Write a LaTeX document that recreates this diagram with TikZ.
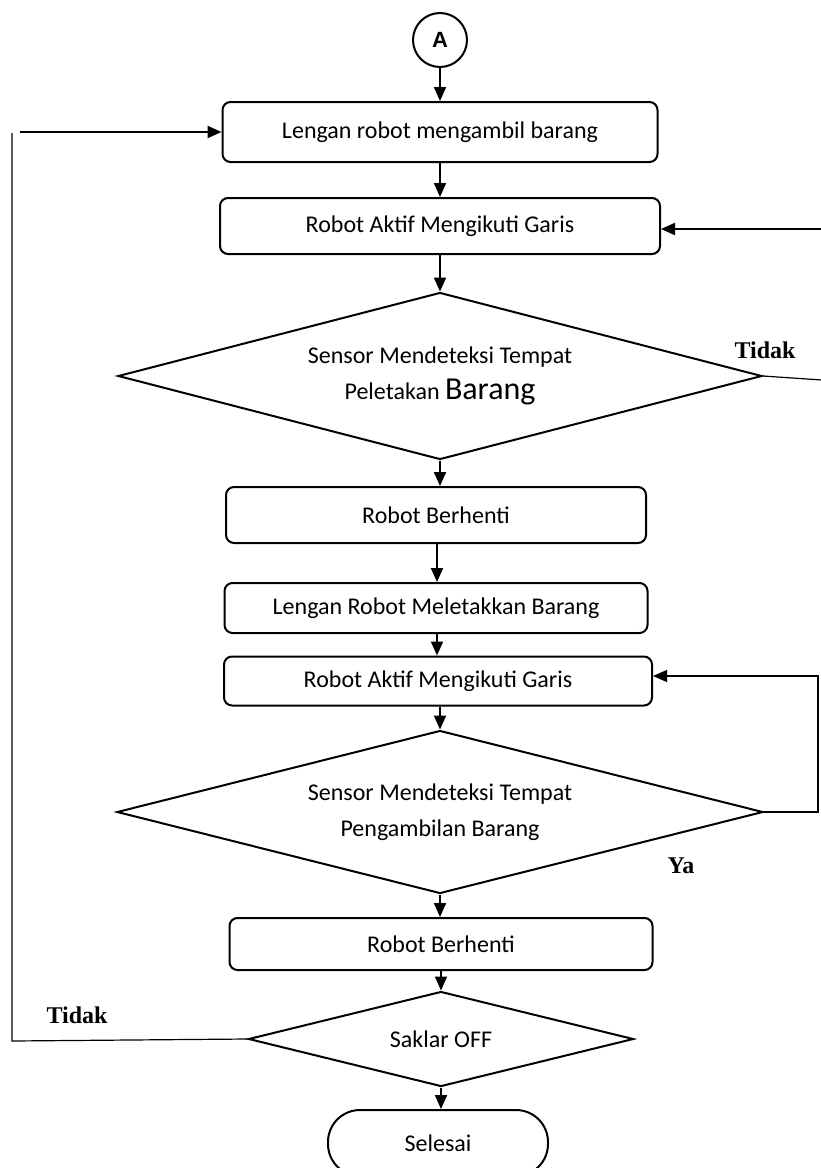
\documentclass[tikz,border=0pt]{standalone}
\usepackage{fontspec}
\setmainfont{Carlito}
\newfontfamily\serifket{Liberation Serif}
\newfontfamily\sanskon{Liberation Sans}
\usetikzlibrary{shapes.geometric,arrows.meta}

\tikzset{
    proses/.style={draw, line width=1pt, rounded corners=4pt, inner sep=0pt},
    keputusan/.style={draw, line width=1pt, diamond, inner sep=0pt, align=center},
    terminal/.style={draw, line width=1pt, rounded corners=16pt, inner sep=0pt},
    konektor/.style={draw, line width=1pt, circle, inner sep=0pt, minimum size=27pt,
        font=\sanskon\bfseries\fontsize{11}{12}\selectfont},
    panah/.style={-{Triangle[width=6pt,length=7pt]}, line width=1pt},
    balik/.style={-{Triangle[width=6pt,length=7pt]}, line width=0.6pt},
    keterangan/.style={font=\serifket\bfseries\fontsize{12}{14}\selectfont}
}

\begin{document}
\begin{tikzpicture}[x=0.5pt, y=-0.5pt, every node/.style={font=\fontsize{12}{18}\selectfont}]
    \useasboundingbox (0,0) rectangle (820,1168);

    % Konektor awal
    \node[konektor] (A) at (440,40) {A};

    % Proses atas
    \node[proses, minimum width=217.5pt, minimum height=30pt] (ambil) at (440,132) {Lengan robot mengambil barang};
    \node[proses, minimum width=220pt, minimum height=28pt] (garis1) at (440,226) {Robot Aktif Mengikuti Garis};

    % Keputusan tempat peletakan
    \node[keputusan, aspect=3.86, minimum width=322pt, minimum height=83.5pt] (cekletak) at (440,376)
        {Sensor Mendeteksi Tempat\\Peletakan {\fontsize{16}{18}\selectfont Barang}};

    % Proses tengah
    \node[proses, minimum width=210pt, minimum height=28pt] (stop1) at (436,515) {Robot Berhenti};
    \node[proses, minimum width=211.5pt, minimum height=25pt] (letak) at (436,608) {Lengan Robot Meletakkan Barang};
    \node[proses, minimum width=214pt, minimum height=24.5pt] (garis2) at (438,681) {Robot Aktif Mengikuti Garis};

    % Keputusan tempat pengambilan
    \node[keputusan, aspect=3.96, minimum width=323pt, minimum height=81.5pt] (cekambil) at (440,812)
        {Sensor Mendeteksi Tempat\\Pengambilan Barang};

    % Proses bawah
    \node[proses, minimum width=211.5pt, minimum height=26pt] (stop2) at (441,944) {Robot Berhenti};
    \node[keputusan, aspect=4.05, minimum width=192.5pt, minimum height=47.5pt] (saklar) at (441,1039) {Saklar OFF};
    \node[terminal, minimum width=110pt, minimum height=33pt] (selesai) at (438,1143) {Selesai};

    % Alur utama
    \draw[panah] (A) -- (A |- ambil.north);
    \draw[panah] (ambil.south -| A) -- (A |- garis1.north);
    \draw[panah] (garis1.south -| A) -- (cekletak.north);
    \draw[panah] (cekletak.south) -- (cekletak.south |- stop1.north);
    \draw[panah] (437,543) -- (letak.north -| 437,0);
    \draw[panah] (letak.south -| 437,0) -- (garis2.north -| 437,0);
    \draw[panah] (garis2.south -| cekambil.north) -- (cekambil.north);
    \draw[panah] (cekambil.south) -- (cekambil.south |- stop2.north);
    \draw[panah] (stop2.south -| saklar.north) -- (saklar.north);
    \draw[panah] (saklar.south) -- (saklar.south |- selesai.north);

    % Cabang Tidak (peletakan)
    \draw[line width=0.6pt] (cekletak.east) -- (822,380);
    \draw[panah] (822,229) -- (garis1.east |- 0,229);
    \node[keterangan] (tidak1) at (765,350) {Tidak};

    % Cabang Ya (pengambilan)
    \draw[balik] (cekambil.east) -- (818,812) |- (garis2.east |- 0,676);
    \node[keterangan] (ya) at (681,866) {Ya};

    % Cabang Tidak (saklar)
    \draw[line width=0.6pt] (saklar.west) -- (12,1041) -- (12,133);
    \draw[panah] (20,132) -- (ambil.west);
    \node[keterangan] (tidak2) at (77,1015) {Tidak};
\end{tikzpicture}
\end{document}
